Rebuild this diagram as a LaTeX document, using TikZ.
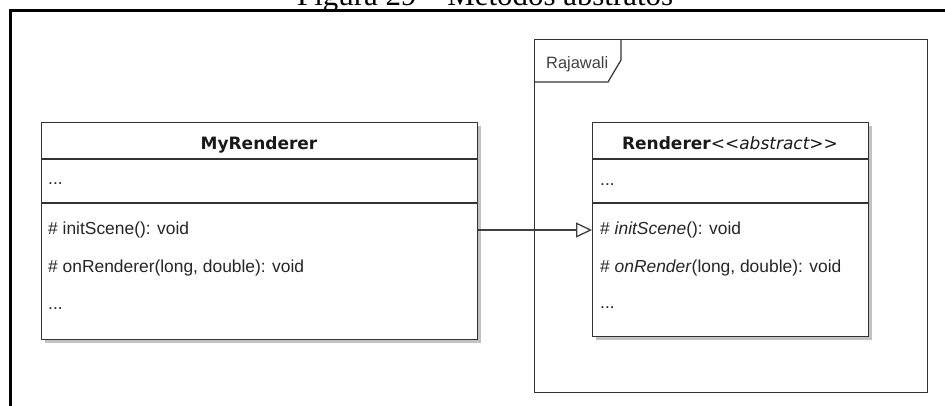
\documentclass[tikz,border=0pt]{standalone}
\usepackage{fontspec}
\setmainfont{Liberation Sans}
\newfontfamily\headfont{DejaVu Sans}
\newfontfamily\capfont{Liberation Serif}
\usetikzlibrary{arrows.meta,shadows}
\begin{document}
\begin{tikzpicture}[x=1pt,y=-1pt,
  classbox/.style={draw=black!80, line width=1.3pt, fill=white, rectangle, inner sep=0pt,
    drop shadow={shadow xshift=3pt, shadow yshift=-3pt, fill=black!40, opacity=0.6}},
  sepline/.style={draw=black!80, line width=1.3pt},
  pkgline/.style={draw=black!80, line width=1.2pt},
  member/.style={anchor=base west, inner sep=0pt, text=black!85, font=\fontsize{17.4}{20}\selectfont},
  headtxt/.style={anchor=base, inner sep=0pt, text=black!90, font=\headfont\fontsize{17}{20}\selectfont},
  genarrow/.style={draw=black!75, line width=1.3pt, -{Triangle[open, length=16pt, width=15pt, fill=white]}},
  frameline/.style={draw=black, line width=3pt}
]
\useasboundingbox (0,0) rectangle (945,405);
\clip (0,0) rectangle (945,405);
% caption (cut off at top)
\node[anchor=base west, inner sep=0pt, font=\capfont\fontsize{30.9}{34}\selectfont] (cap) at (297,5.5) {Figura 29 – Métodos abstratos};
% thick frame
\draw[frameline] (10.5,420) -- (10.5,10.5) -- (960,10.5);
% package Rajawali
\node[pkgline, rectangle, minimum width=393pt, minimum height=353pt, anchor=north west, inner sep=0pt] (pkg) at (534,39) {};
\coordinate (tabA) at (534,82);
\coordinate (tabB) at (608,82);
\coordinate (tabC) at (621,60);
\coordinate (tabD) at (621,39);
\draw[pkgline] (tabA) -- (tabB) -- (tabC) -- (tabD);
\node[member, text=black!75, font=\fontsize{16.4}{20}\selectfont] (pkgname) at (546,68) {Rajawali};
% MyRenderer
\node[classbox, minimum width=436pt, minimum height=217pt, anchor=north west] (myr) at (41,122) {};
\draw[sepline] (myr.west |- 0,159) -- (myr.east |- 0,159);
\draw[sepline] (myr.west |- 0,203) -- (myr.east |- 0,203);
\node[headtxt] (myrname) at (259,149) {\bfseries MyRenderer};
\node[member] (myra) at (48,184) {...};
\node[member] (myro1) at (48,234) {\# initScene(): void};
\node[member] (myro2) at (48,272) {\# onRenderer(long, double): void};
\node[member] (myro3) at (48,309) {...};
% Renderer
\node[classbox, minimum width=276pt, minimum height=214pt, anchor=north west] (ren) at (592,122) {};
\draw[sepline] (ren.west |- 0,159) -- (ren.east |- 0,159);
\draw[sepline] (ren.west |- 0,203) -- (ren.east |- 0,203);
\node[headtxt] (renname) at (730,149) {\bfseries Renderer\mdseries\itshape\textless\textless abstract\textgreater\textgreater};
\node[member] (rena) at (600,185) {...};
\node[member] (reno1) at (600,234) {\# \textit{initScene}(): void};
\node[member] (reno2) at (600,272) {\# \textit{onRender}(long, double): void};
\node[member] (reno3) at (600,308) {...};
% generalization
\coordinate (gy) at (0,230);
\draw[genarrow] (myr.east |- gy) -- (ren.west |- gy);
\end{tikzpicture}
\end{document}
